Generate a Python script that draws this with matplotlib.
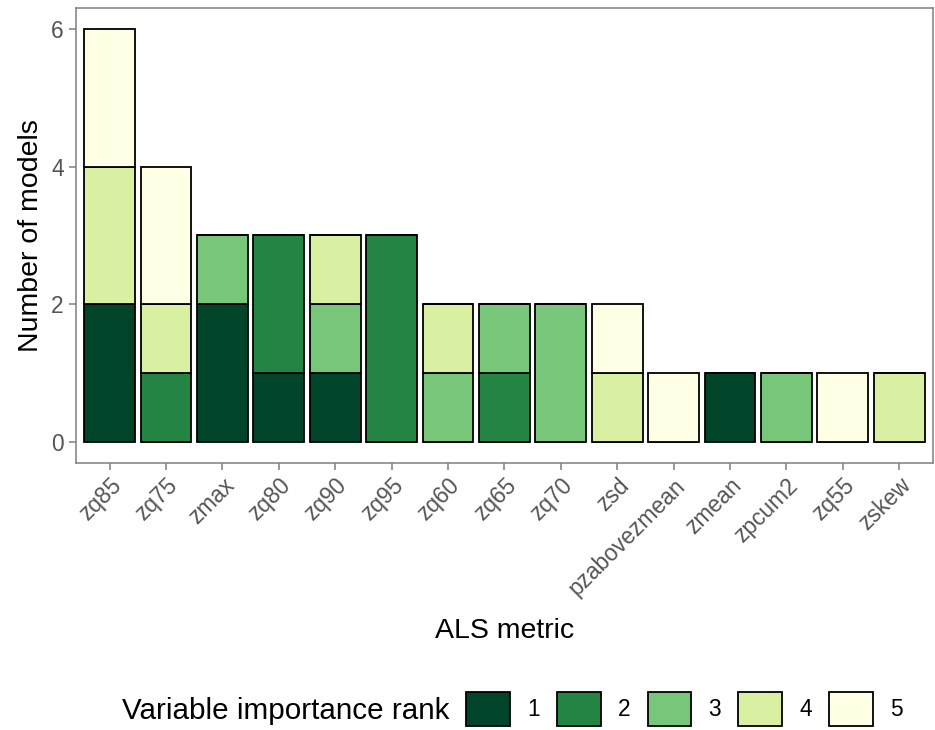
import numpy as np
import matplotlib
matplotlib.use("Agg")
import matplotlib.pyplot as plt
from matplotlib.patches import Patch

plt.rcParams['font.family'] = ['Liberation Sans', 'DejaVu Sans']

metrics = ["zq85", "zq75", "zmax", "zq80", "zq90", "zq95", "zq60", "zq65",
           "zq70", "zsd", "pzabovezmean", "zmean", "zpcum2", "zq55", "zskew"]
ranks = ["1", "2", "3", "4", "5"]
# counts of models per rank for each metric
rank1 = [2, 0, 2, 1, 1, 0, 0, 0, 0, 0, 0, 1, 0, 0, 0]
rank2 = [0, 1, 0, 2, 0, 3, 0, 1, 0, 0, 0, 0, 0, 0, 0]
rank3 = [0, 0, 1, 0, 1, 0, 1, 1, 2, 0, 0, 0, 1, 0, 0]
rank4 = [2, 1, 0, 0, 1, 0, 1, 0, 0, 1, 0, 0, 0, 0, 1]
rank5 = [2, 2, 0, 0, 0, 0, 0, 0, 0, 1, 1, 0, 0, 1, 0]
colors = ["#004529", "#238443", "#78c679", "#d9f0a3", "#ffffe5"]

fig = plt.figure(figsize=(9.35, 7.3), dpi=100)
ax = fig.add_axes([0.081, 0.366, 0.917, 0.623])

x = np.arange(1, len(metrics) + 1)
bottom = np.zeros(len(metrics))
for vals, col in zip([rank1, rank2, rank3, rank4, rank5], colors):
    vals = np.array(vals)
    ax.bar(x, vals, width=0.9, bottom=bottom, color=col, edgecolor="black", linewidth=1.3)
    bottom += vals

ax.set_xlim(0.4, 15.6)
ax.set_ylim(-0.3, 6.3)
ax.set_yticks([0, 2, 4, 6])
ax.set_xticks(x)
ax.set_xticklabels(metrics, rotation=45, ha="right", va="top", rotation_mode="anchor")
ax.tick_params(axis="both", colors="#7f7f7f", labelcolor="#555555", labelsize=16.4, length=5, width=1.1)
ax.tick_params(axis="x", pad=3)
for s in ax.spines.values():
    s.set_color("#7f7f7f")
    s.set_linewidth(1.1)

ax.set_ylabel("Number of models", fontsize=20.5, labelpad=5)
ax.set_xlabel("ALS metric", fontsize=20.5, labelpad=13)

# legend at the bottom, title on the left of the keys
fig.text(122 / 935, 1 - 711 / 730, "Variable importance rank", fontsize=21.3,
         ha="left", va="center")
handles = [Patch(facecolor=c, edgecolor="black", linewidth=1.3) for c in colors]
fig.legend(handles, ranks, loc="center left", bbox_to_anchor=(466 / 935, 1 - 709 / 730),
           ncol=5, frameon=False, fontsize=16.4, borderpad=0, borderaxespad=0,
           handlelength=1.93, handleheight=1.93, handletextpad=0.75, columnspacing=0.75)

fig.savefig("out.png", dpi=100)
